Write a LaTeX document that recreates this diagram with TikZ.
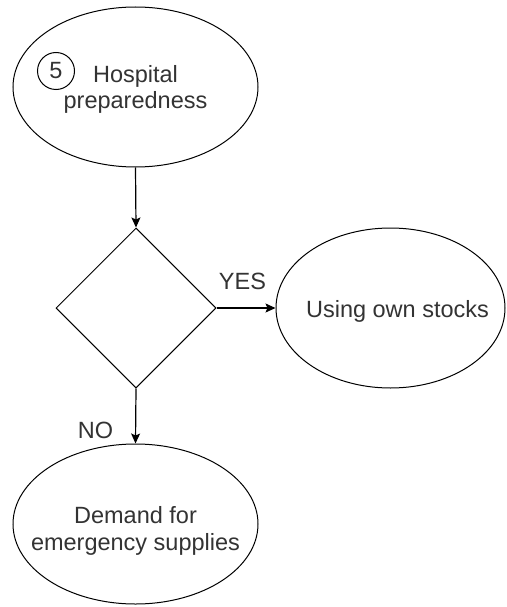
\documentclass[tikz,border=0pt]{standalone}
\usepackage{fontspec}
\setmainfont{Liberation Sans}
\usetikzlibrary{shapes.geometric,arrows.meta}
\begin{document}
\begin{tikzpicture}[x=1pt,y=-1pt,
  txt/.style={font=\fontsize{23.5}{27}\selectfont, text=black!80, align=center, inner sep=0pt},
  oval/.style={ellipse, draw, line width=1pt, inner sep=0pt, minimum height=160pt},
  decision/.style={diamond, draw, line width=1pt, inner sep=0pt, minimum width=160pt, minimum height=160pt},
  arr/.style={draw, line width=1.2pt, -{Stealth[length=10pt,width=9pt,inset=2pt]}},
  numbadge/.style={circle, draw, line width=1pt, minimum size=37pt, inner sep=0pt, font=\fontsize{23.5}{27}\selectfont, text=black!80}
]
\fill[white] (0,0) rectangle (506,607);
\useasboundingbox (0,0) rectangle (506,607);

% shapes
\node[oval, minimum width=245pt] (prep) at (135.5,87) {};
\node[decision] (choice) at (136,308) {};
\node[oval, minimum width=229pt] (stocks) at (390.5,308) {};
\node[oval, minimum width=245pt] (demand) at (135.5,524) {};

% texts
\node[numbadge] (five) at (56,71) {5};
\node[txt, font=\fontsize{23.5}{26}\selectfont] (preptext) at (135.5,89) {Hospital\\preparedness};
\node[txt] (stockstext) at (397.5,311) {Using own stocks};
\node[txt] (demandtext) at (135.5,530.5) {Demand for\\emergency supplies};

% connectors
\path[arr] (prep.south) -- (choice.north);
\path[arr] (choice.east) -- (stocks.west);
\path[arr] (choice.south) -- (demand.north);

% branch labels
\node[txt] (yes) at (242.5,281.5) {YES};
\node[txt] (no) at (95.5,430) {NO};
\end{tikzpicture}
\end{document}
